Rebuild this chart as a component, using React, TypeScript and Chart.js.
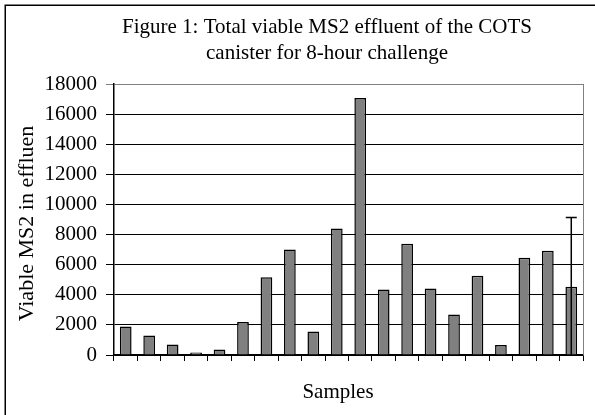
import React, { useEffect, useRef } from 'react';
import { Chart, registerables } from 'chart.js';

Chart.register(...registerables);

const categories = ['1', '2', '3', '4', '5', '6', '7', '8', '9', '10', '11', '12', '13', '14', '15', '16', '17', '18', '19', '20'];
const viableMS2 = [1900, 1300, 700, 160, 360, 2200, 5170, 7000, 1560, 8400, 17070, 4350, 7390, 4420, 2690, 5260, 670, 6460, 6920, 4530];
const errorPlusMinus = [0, 0, 0, 0, 0, 0, 0, 0, 0, 0, 0, 0, 0, 0, 0, 0, 0, 0, 0, 4600];
const yMin = 0;
const yMax = 18000;
const yStep = 2000;
const titleLines = ['Figure 1: Total viable MS2 effluent of the COTS', 'canister for 8-hour challenge'];
const yTitle = 'Viable MS2 in effluen';
const xTitle = 'Samples';

const FONT = "'Liberation Serif', 'Times New Roman', serif";

const decor = {
  id: 'decor',
  beforeDraw(chart: any) {
    const { ctx, width, height } = chart;
    ctx.save();
    ctx.fillStyle = '#fff';
    ctx.fillRect(0, 0, width, height);
    ctx.strokeStyle = '#000';
    ctx.lineWidth = 1.5;
    ctx.strokeRect(5.25, 5.25, width + 10, height + 10);
    ctx.restore();
  },
  afterDraw(chart: any) {
    const { ctx, chartArea } = chart;
    const yScale = chart.scales.y;
    ctx.save();
    ctx.strokeStyle = '#808080';
    ctx.lineWidth = 1;
    ctx.beginPath();
    ctx.moveTo(Math.round(chartArea.right) + 0.5, chartArea.top);
    ctx.lineTo(Math.round(chartArea.right) + 0.5, chartArea.bottom);
    ctx.stroke();

    const meta = chart.getDatasetMeta(0);
    ctx.strokeStyle = '#000';
    ctx.lineWidth = 1.5;
    errorPlusMinus.forEach((err, i) => {
      if (!err) return;
      const v = viableMS2[i];
      const x = meta.data[i].x;
      const yTop = yScale.getPixelForValue(v + err);
      const yBot = yScale.getPixelForValue(Math.max(yMin, v - err));
      ctx.beginPath();
      ctx.moveTo(x, yTop);
      ctx.lineTo(x, yBot);
      ctx.moveTo(x - 5.5, yTop);
      ctx.lineTo(x + 5.5, yTop);
      ctx.stroke();
    });

    ctx.fillStyle = '#000';
    ctx.font = `21px ${FONT}`;
    ctx.textAlign = 'center';
    ctx.textBaseline = 'alphabetic';
    ctx.fillText(titleLines[0], 327, 33);
    ctx.fillText(titleLines[1], 327, 59);

    ctx.fillText(xTitle, 338, 398);

    ctx.save();
    ctx.translate(33, 223.5);
    ctx.rotate(-Math.PI / 2);
    ctx.font = `22px ${FONT}`;
    ctx.fillText(yTitle, 0, 0);
    ctx.restore();

    ctx.restore();
  },
};

export default function App() {
  const ref = useRef<HTMLCanvasElement | null>(null);
  useEffect(() => {
    if (!ref.current) return;
    const chart = new Chart(ref.current, {
      type: 'bar',
      data: {
        labels: categories,
        datasets: [
          {
            data: viableMS2,
            backgroundColor: '#808080',
            borderColor: '#000',
            borderWidth: 1.5,
            categoryPercentage: 1,
            barPercentage: 0.5,
          },
        ],
      },
      options: {
        responsive: false,
        animation: false,
        layout: { padding: { top: 84, right: 12, left: 0, bottom: 0 } },
        plugins: {
          legend: { display: false },
          title: { display: false },
          tooltip: { enabled: false },
        },
        scales: {
          x: {
            type: 'category',
            offset: true,
            grid: {
              offset: true,
              drawOnChartArea: false,
              drawTicks: true,
              tickLength: 6,
              color: '#000',
              lineWidth: 1,
            },
            border: { color: '#000', width: 1.5 },
            ticks: { display: false },
            afterFit: (s: any) => {
              s.height = 60;
            },
          },
          y: {
            min: yMin,
            max: yMax,
            ticks: {
              stepSize: yStep,
              color: '#000',
              font: { family: FONT, size: 21 },
              padding: 9,
              callback: (v: any) => String(v),
            },
            grid: {
              color: (c: any) => (c.tick && c.tick.value === yMax ? '#808080' : '#000'),
              lineWidth: 1,
              tickLength: 8,
            },
            border: { color: '#000', width: 1.5 },
            afterFit: (s: any) => {
              s.width = 114;
            },
          },
        },
      },
      plugins: [decor],
    });
    return () => chart.destroy();
  }, []);
  return (
    <div style={{ position: 'fixed', left: 0, top: 0, width: 595, height: 415, background: '#fff' }}>
      <canvas ref={ref} width={595} height={415} style={{ display: 'block' }} />
    </div>
  );
}
